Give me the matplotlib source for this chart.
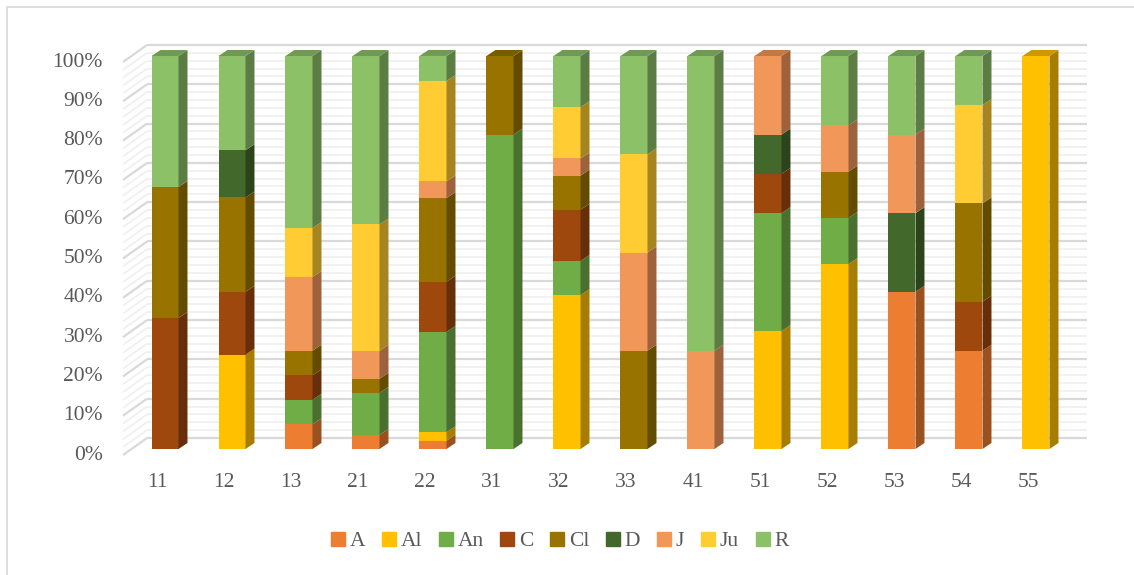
import numpy as np
import matplotlib
matplotlib.use('Agg')
import matplotlib.pyplot as plt
from matplotlib.patches import Polygon
from matplotlib.lines import Line2D
import matplotlib.colors as mcolors

# categories and the share (%) of each group inside them
cats = ['11', '12', '13', '21', '22', '31', '32', '33', '41', '51', '52', '53', '54', '55']

A  = [0, 0, 6.25, 3.57, 2.13, 0, 0, 0, 0, 0, 0, 40, 25, 0]
Al = [0, 24, 0, 0, 2.13, 0, 39.13, 0, 0, 30, 47.06, 0, 0, 100]
An = [0, 0, 6.25, 10.71, 25.53, 80, 8.70, 0, 0, 30, 11.76, 0, 0, 0]
C  = [33.33, 16, 6.25, 0, 12.77, 0, 13.04, 0, 0, 10, 0, 0, 12.5, 0]
Cl = [33.33, 24, 6.25, 3.57, 21.28, 20, 8.70, 25, 0, 0, 11.76, 0, 25, 0]
D  = [0, 12, 0, 0, 0, 0, 0, 0, 0, 10, 0, 20, 0, 0]
J  = [0, 0, 18.75, 7.14, 4.26, 0, 4.35, 25, 25, 20, 11.76, 20, 0, 0]
Ju = [0, 0, 12.5, 32.14, 25.53, 0, 13.04, 25, 0, 0, 0, 0, 25, 0]
R  = [33.33, 24, 43.75, 42.86, 6.38, 0, 13.04, 25, 75, 0, 17.65, 20, 12.5, 0]

names = ['A', 'Al', 'An', 'C', 'Cl', 'D', 'J', 'Ju', 'R']
series = [A, Al, An, C, Cl, D, J, Ju, R]
colors = ['#ED7D31', '#FFC000', '#70AD47', '#9E480E', '#997300',
          '#43682B', '#F1975A', '#FFCD33', '#8CC168']

plt.rcParams['font.family'] = ['Liberation Serif', 'DejaVu Serif']
txt = '#595959'

fig = plt.figure(figsize=(11.34, 5.75), dpi=100)
ax = fig.add_axes([0, 0, 1, 1])
ax.set_xlim(-2.4627, 14.4627)
ax.set_ylim(-32.06, 114.25)
ax.axis('off')

# fake 3d geometry (data units)
w = 0.403          # bar width
bdx, bdy = 0.134, 1.53     # bar depth offset
wx0, wx1 = -0.627, -0.269  # left wall front/back x
wy0, wy1 = -1.53, 2.80     # wall front/back shift in y
xr = 13.76                 # right end of back wall

# gridlines on back wall and left wall, minor every 2 %, major every 10 %
for v in np.arange(0, 101, 2):
    major = (v % 10 == 0)
    c = '#d9d9d9' if major else '#f0f0f0'
    lw = 1.6 if major else 1.3
    z = 1 if major else 0.5
    ax.plot([wx1, xr], [v + wy1, v + wy1], color=c, lw=lw, zorder=z,
            solid_capstyle='butt')
    ax.plot([wx0, wx1], [v + wy0, v + wy1], color=c, lw=lw, zorder=z,
            solid_capstyle='butt')

x = np.arange(len(cats))

def shade(c, f):
    r, g, b = mcolors.to_rgb(c)
    return (r * f, g * f, b * f)

bottom = np.zeros(len(cats))
for name, vals, col in zip(names, series, colors):
    vals = np.array(vals, dtype=float)
    ax.bar(x, vals, width=w, bottom=bottom, color=col, linewidth=0, zorder=3)
    for i in range(len(cats)):
        if vals[i] <= 0:
            continue
        y0, y1 = bottom[i], bottom[i] + vals[i]
        xe = x[i] + w / 2
        side = Polygon([(xe, y0), (xe + bdx, y0 + bdy), (xe + bdx, y1 + bdy), (xe, y1)],
                       closed=True, facecolor=shade(col, 0.65), edgecolor='none', zorder=3)
        ax.add_patch(side)
    bottom = bottom + vals

# top faces take the colour of the uppermost segment
for i in range(len(cats)):
    top_col = None
    for vals, col in zip(series, colors):
        if vals[i] > 0:
            top_col = col
    t = bottom[i]
    xl, xe = x[i] - w / 2, x[i] + w / 2
    ax.add_patch(Polygon([(xl, t), (xl + bdx, t + bdy), (xe + bdx, t + bdy), (xe, t)],
                         closed=True, facecolor=shade(top_col, 0.8),
                         edgecolor='none', zorder=3))

# axis labels
for v in range(0, 101, 10):
    ax.text(-0.925, v + wy0, f'{v}%', ha='right', va='center',
            fontsize=15.5, color=txt)
for i, c in enumerate(cats):
    ax.text(i - 0.12, -8.65, c, ha='center', va='center', fontsize=15.5, color=txt)

handles = [Line2D([], [], marker='s', linestyle='none', markersize=9.4,
                  markerfacecolor=c, markeredgecolor=c) for c in colors]
fig.legend(handles, names, loc='center', bbox_to_anchor=(560 / 1134, 1 - 541 / 575),
           ncol=9, frameon=False, fontsize=15.5, handlelength=0.6,
           handletextpad=0.25, columnspacing=0.8, labelcolor=txt)

# chart border
fig.add_artist(Line2D([7 / 1134, 7 / 1134, 1], [0, 1 - 7 / 575, 1 - 7 / 575],
                      transform=fig.transFigure, color='#d9d9d9', lw=1.2))

fig.savefig('out.png', dpi=100)
